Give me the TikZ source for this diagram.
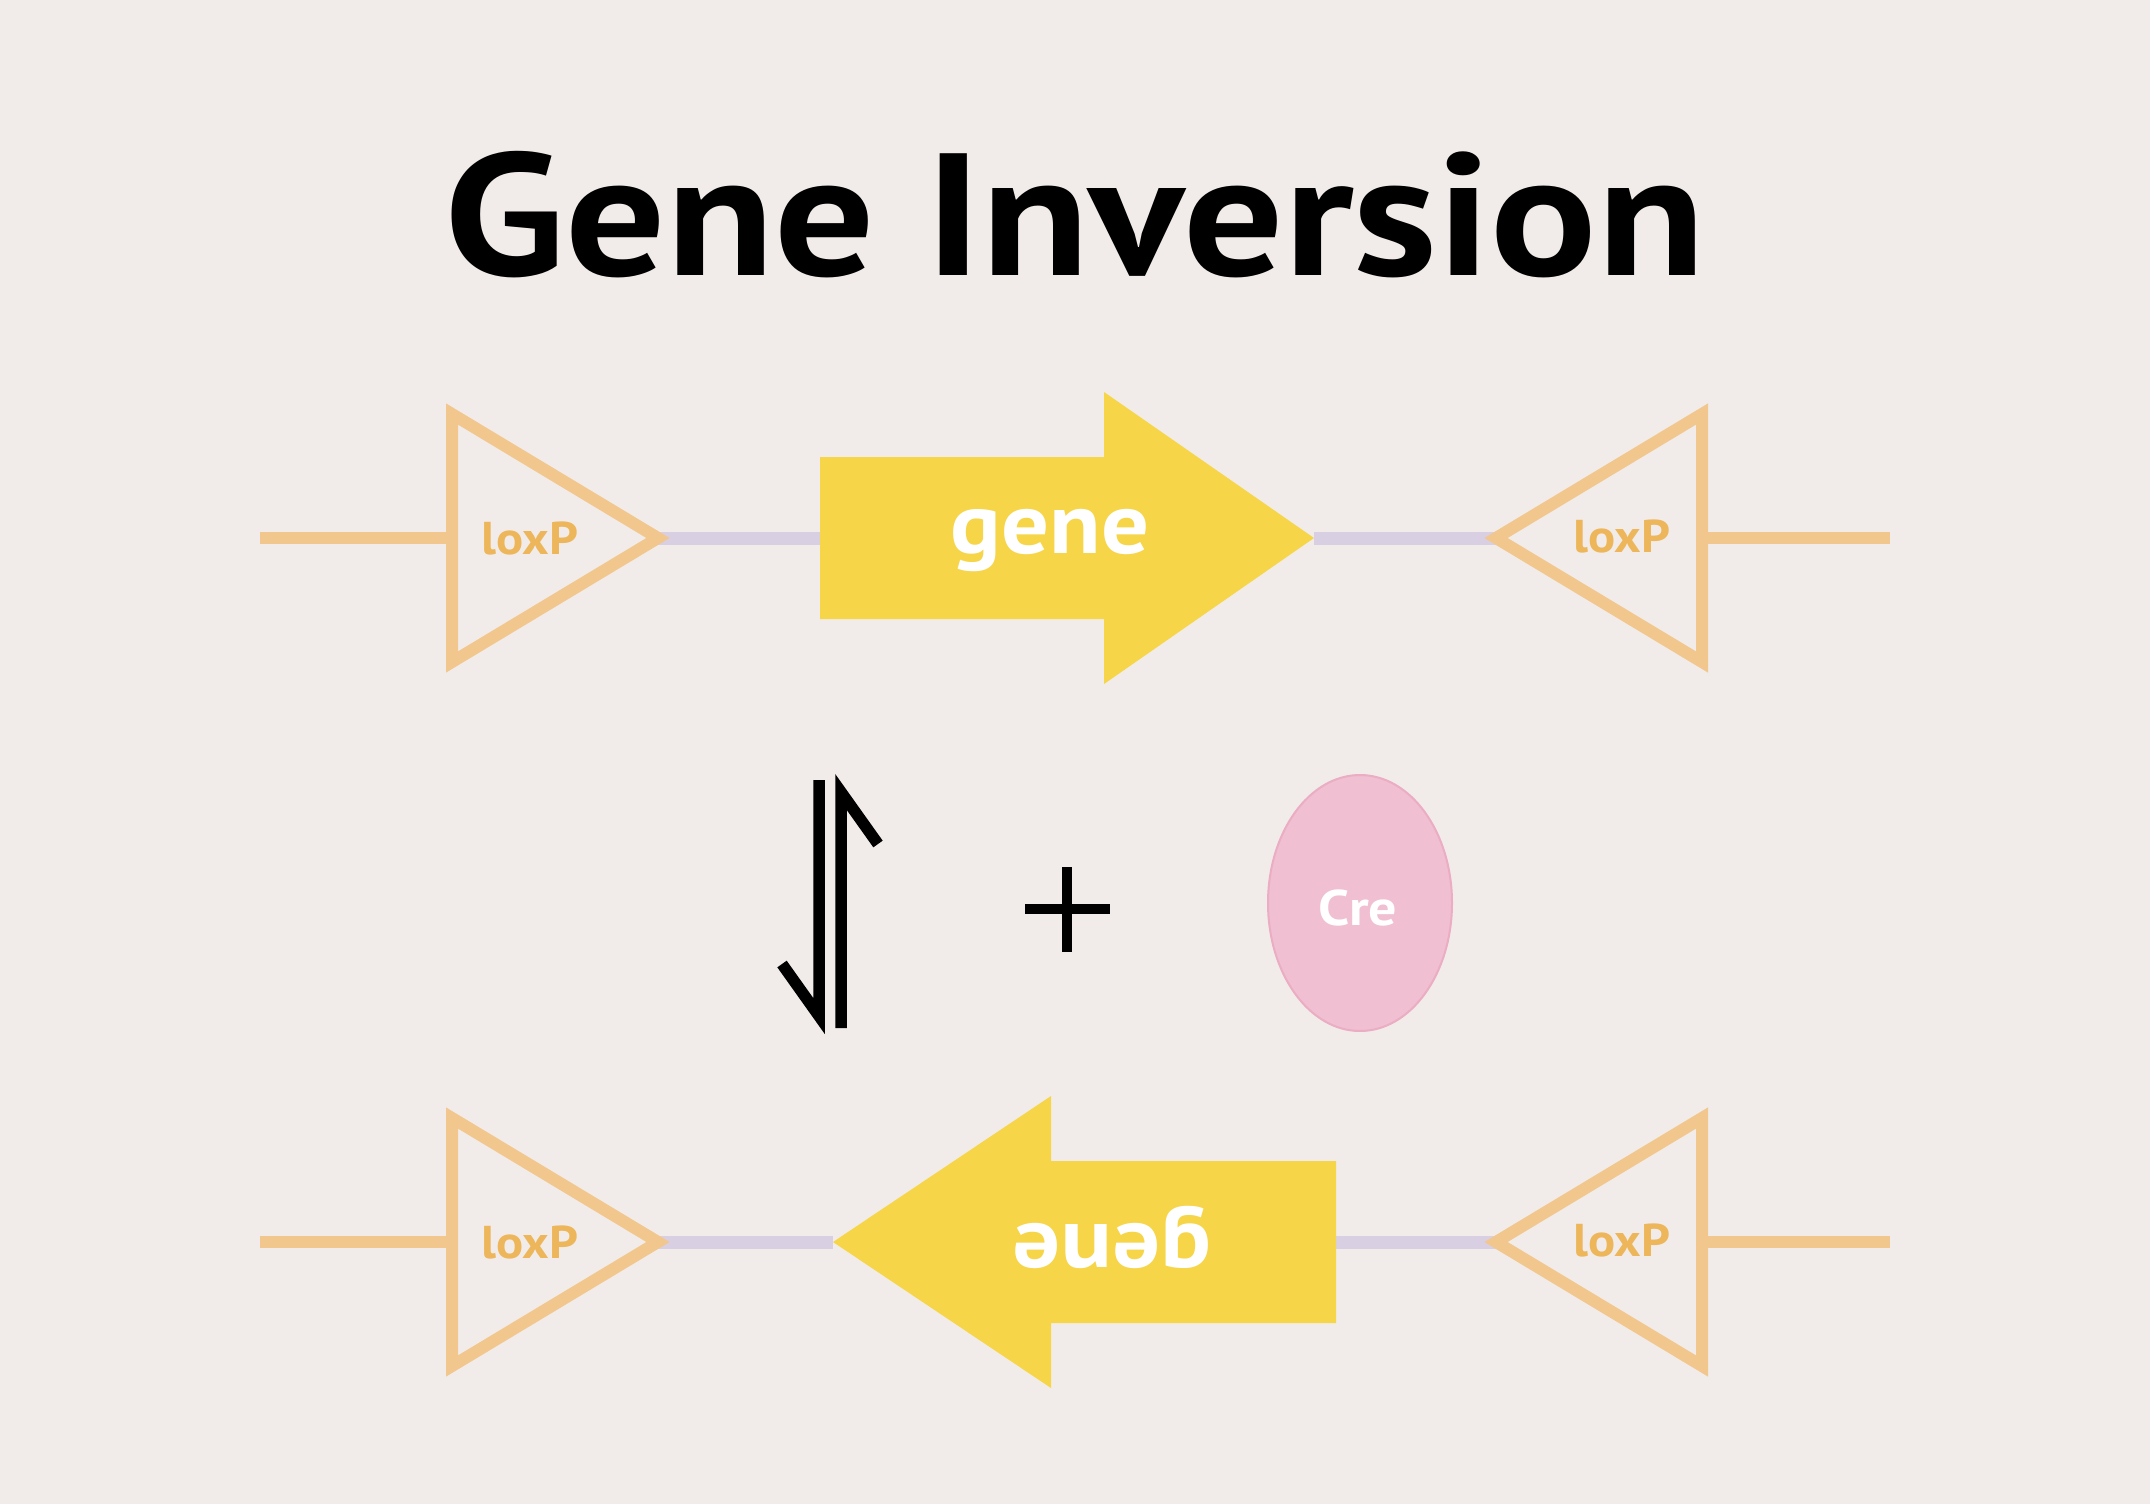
\documentclass[tikz,border=0pt]{standalone}
\usepackage{fontspec}
\setmainfont{PT Sans}
\usetikzlibrary{shapes.geometric}
\definecolor{bg}{HTML}{F1ECE9}
\definecolor{loxline}{HTML}{F2C78E}
\definecolor{loxtext}{HTML}{EDB65A}
\definecolor{spacer}{HTML}{D9CFE3}
\definecolor{geneyellow}{HTML}{F6D548}
\definecolor{crepink}{HTML}{F0BFD1}
\definecolor{creedge}{HTML}{EBADC4}
\begin{document}
\begin{tikzpicture}[x=1pt,y=-1pt,
  loxstroke/.style={draw=loxline, line width=12pt, line join=miter},
  flankline/.style={draw=loxline, line width=12pt},
  spacerline/.style={draw=spacer, line width=13pt},
  genearrow/.style={fill=geneyellow},
  loxlabel/.style={text=loxtext, font=\bfseries\fontsize{46}{48}\selectfont, anchor=base, inner sep=0pt, xscale=1.1},
  genelabel/.style={text=white, font=\bfseries\fontsize{86}{88}\selectfont, anchor=base, inner sep=0pt, xscale=1.1},
  harpoon/.style={draw=black, line width=11.5pt, line join=miter},
  plusbar/.style={draw=black, line width=9.5pt},
  titlefont/.style={font=\bfseries\fontsize{174}{176}\selectfont, anchor=base, inner sep=0pt, xscale=1.14},
]
\fill[bg] (0,0) rectangle (2150,1504);
\useasboundingbox (0,0) rectangle (2150,1504);

% title
\node[titlefont] (title) at (1075,275) {Gene Inversion};

% ---------- top row (y = 538) ----------
\coordinate (a1start) at (260,538);
\coordinate (a1end) at (1890,538);
\coordinate (a1Lback) at (452,538);
\coordinate (a1Ltip) at (658,538);
\coordinate (a1Rtip) at (1496,538);
\coordinate (a1Rback) at (1702,538);
\coordinate (a1tail) at (820,538);
\coordinate (a1head) at (1314,538);

\draw[flankline] (a1start) -- (a1Lback);
\draw[flankline] (a1Rback) -- (a1end);
\draw[spacerline] (a1Ltip) -- (a1tail);
\draw[spacerline] (a1head) -- (a1Rtip);

\draw[loxstroke] (452,414) -- (a1Ltip) -- (452,662) -- cycle;
\draw[loxstroke] (1702,414) -- (a1Rtip) -- (1702,662) -- cycle;
\node[loxlabel] (lox1) at (530,554) {loxP};
\node[loxlabel] (lox2) at (1622,552) {loxP};

\fill[genearrow] (820,457) -- (1104,457) -- (1104,392) -- (a1head) -- (1104,684) -- (1104,619) -- (820,619) -- cycle;
\node[genelabel] (gene1) at (1050,553) {gene};

% ---------- middle ----------
\coordinate (hd1) at (819,780);
\coordinate (hd2) at (819,1016);
\coordinate (hd3) at (782,964);
\coordinate (hu1) at (841,1028);
\coordinate (hu2) at (841,792);
\coordinate (hu3) at (878,844);
\draw[harpoon] (hd1) -- (hd2) -- (hd3);
\draw[harpoon] (hu1) -- (hu2) -- (hu3);

\draw[plusbar] (1025,909) -- (1110,909);
\draw[plusbar] (1067,867) -- (1067,952);

\node[ellipse, fill=crepink, draw=creedge, line width=2pt, minimum width=184pt, minimum height=256pt, inner sep=0pt] (cre) at (1360,903) {};
\node[text=white, font=\bfseries\fontsize{50}{52}\selectfont, anchor=base, inner sep=0pt, xscale=1.12] (crelabel) at (1358,925) {Cre};

% ---------- bottom row (y = 1242) ----------
\coordinate (b1start) at (260,1242);
\coordinate (b1end) at (1890,1242);
\coordinate (b1Lback) at (452,1242);
\coordinate (b1Ltip) at (658,1242);
\coordinate (b1Rtip) at (1496,1242);
\coordinate (b1Rback) at (1702,1242);
\coordinate (b1head) at (833,1242);
\coordinate (b1tail) at (1336,1242);

\draw[flankline] (b1start) -- (b1Lback);
\draw[flankline] (b1Rback) -- (b1end);
\draw[spacerline] (b1Ltip) -- (b1head);
\draw[spacerline] (b1tail) -- (b1Rtip);

\draw[loxstroke] (452,1118) -- (b1Ltip) -- (452,1366) -- cycle;
\draw[loxstroke] (1702,1118) -- (b1Rtip) -- (1702,1366) -- cycle;
\node[loxlabel] (lox3) at (530,1258) {loxP};
\node[loxlabel] (lox4) at (1622,1256) {loxP};

\fill[genearrow] (1336,1161) -- (1051,1161) -- (1051,1096) -- (b1head) -- (1051,1388) -- (1051,1323) -- (1336,1323) -- cycle;
\node[genelabel, rotate=180] (gene2) at (1112,1224) {gene};
\end{tikzpicture}
\end{document}
